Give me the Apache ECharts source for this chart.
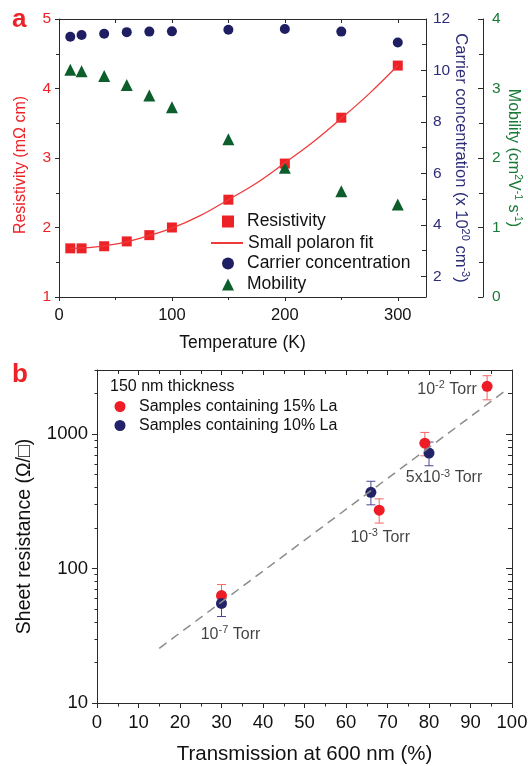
<!DOCTYPE html>
<html>
<head>
<meta charset="utf-8">
<script src="https://cdn.jsdelivr.net/npm/echarts@6/dist/echarts.min.js"></script>
<style>
  html, body { margin: 0; padding: 0; background: #fff; }
  #chart { width: 528px; height: 766px; }
</style>
</head>
<body>
<div id="chart"></div>
<script>
// panel a: transport data
const temps = [10, 20, 40, 60, 80, 100, 150, 200, 250, 300]
const resistivity = [1.70, 1.70, 1.73, 1.80, 1.89, 2.00, 2.40, 2.92, 3.58, 4.33]
const carrierConc = [11.31, 11.38, 11.43, 11.49, 11.51, 11.52, 11.58, 11.61, 11.51, 11.09]
const mobility = [3.27, 3.25, 3.18, 3.05, 2.90, 2.73, 2.27, 1.86, 1.52, 1.33]
// small polaron fit
const fitTemps = [10, 25, 50, 75, 100, 125, 150, 175, 200, 225, 250, 275, 300]
const fitValues = [1.70, 1.71, 1.76, 1.86, 1.99, 2.17, 2.40, 2.64, 2.93, 3.23, 3.57, 3.93, 4.33]

// panel b: sheet resistance vs transmission
const trans15 = [30, 68, 79, 94]
const sheet15 = [63, 272, 857, 2270]
const err15Low = [52, 218, 690, 1800]
const err15High = [76, 330, 1030, 2720]
const trans10 = [30, 66, 80]
const sheet10 = [55, 369, 723]
const err10Low = [44, 298, 582]
const err10High = [66, 446, 873]
const trendX = [15, 98]
const trendY = [25.5, 2060]
const noteText = ['10{s|-7} Torr', '10{s|-3} Torr', '5x10{s|-3} Torr', '10{s|-2} Torr']
const noteAt = [[30, 55], [68, 272], [80, 723], [94, 2270]]

// tick positions
const tempTicks = [0, 100, 200, 300]
const tempMinor = [50, 150, 250]
const resTicks = [1, 2, 3, 4, 5]
const resMinor = [1.5, 2.5, 3.5, 4.5]
const carrierTicks = [2, 4, 6, 8, 10, 12]
const carrierMinor = [3, 5, 7, 9, 11]
const mobTicks = [0, 1, 2, 3, 4]
const mobMinor = [0.5, 1.5, 2.5, 3.5]
const transTicks = [0, 10, 20, 30, 40, 50, 60, 70, 80, 90, 100]
const transMinor = [5, 15, 25, 35, 45, 55, 65, 75, 85, 95]
const sheetTicks = [10, 100, 1000]
const sheetMinor = [20, 30, 40, 50, 60, 70, 80, 90, 200, 300, 400, 500, 600, 700, 800, 900, 2000, 3000]

const FONT = '"Liberation Sans", Arial, sans-serif'
const RED = '#ec2227'
const NAVY = '#1f1e63'
const GREEN = '#0c5f2c'
const AXIS = '#2a2a2a'

const chart = echarts.init(document.getElementById('chart'))

// one axis; minor=true gives a line-less axis that only draws short ticks
function axis(o) {
  const a = {
    type: o.type || 'value',
    gridIndex: o.grid,
    position: o.position,
    offset: o.offset || 0,
    min: o.min,
    max: o.max,
    name: o.name || '',
    nameLocation: 'middle',
    nameGap: o.nameGap,
    nameRotate: o.nameRotate,
    nameMoveOverlap: false,
    nameTextStyle: o.nameTextStyle,
    splitLine: { show: false },
    axisLine: { show: !o.minor, onZero: false, lineStyle: { color: AXIS, width: 1 } },
    axisTick: {
      show: true,
      inside: !!o.inside,
      length: o.tickLen,
      customValues: o.ticks,
      lineStyle: { color: AXIS, width: 1 }
    },
    axisLabel: o.minor || o.noLabel ? { show: false } : {
      show: true,
      customValues: o.ticks,
      margin: o.margin,
      formatter: v => String(v),
      color: o.labelColor || '#111',
      fontSize: o.labelSize || 15.5,
      fontFamily: FONT
    }
  }
  if (o.logBase) a.logBase = o.logBase
  return a
}

function errorBars(xs, lo, hi, color) {
  return {
    type: 'custom',
    xAxisIndex: 4,
    yAxisIndex: 6,
    data: xs.map((x, i) => [x, lo[i], hi[i]]),
    encode: { x: 0, y: [1, 2] },
    renderItem(params, api) {
      const top = api.coord([api.value(0), api.value(2)])
      const bot = api.coord([api.value(0), api.value(1)])
      const w = 4.5
      const st = { stroke: color, lineWidth: 1 }
      return {
        type: 'group',
        children: [
          { type: 'line', shape: { x1: top[0], y1: top[1], x2: bot[0], y2: bot[1] }, style: st },
          { type: 'line', shape: { x1: top[0] - w, y1: top[1], x2: top[0] + w, y2: top[1] }, style: st },
          { type: 'line', shape: { x1: bot[0] - w, y1: bot[1], x2: bot[0] + w, y2: bot[1] }, style: st }
        ]
      }
    }
  }
}

// superscript token: sits at the top of a line taller than the base text
const supStyle = (color, size) => ({ fontSize: size, lineHeight: size, verticalAlign: 'top', color: color, fontFamily: FONT })

const notePlacement = [[9, 31], [1, 27], [15, 25], [-40, 3]]

// symbol legends (icon 12px, text pushed to line up with the fit-line legend)
const symbolLegend = (top, names) => ({
  orient: 'vertical', left: 222, top: top, padding: 0,
  itemWidth: 12, itemHeight: 12, itemGap: 3,
  textStyle: { fontSize: 17.5, color: '#111', fontFamily: FONT, padding: [0, 0, 0, 8] },
  data: names
})

const option = {
  animation: false,
  textStyle: { fontFamily: FONT },
  title: [
    { text: 'a', left: 12, top: 7, padding: 0, textStyle: { fontSize: 26, fontWeight: 'bold', color: RED, fontFamily: FONT } },
    { text: 'b', left: 12, top: 362, padding: 0, textStyle: { fontSize: 26, fontWeight: 'bold', color: RED, fontFamily: FONT } },
    { text: '150 nm thickness', left: 110, top: 378.5, padding: 0, textStyle: { fontSize: 16, fontWeight: 'normal', color: '#111', fontFamily: FONT } }
  ],
  legend: [
    symbolLegend(212.5, ['Resistivity']),
    {
      orient: 'vertical', left: 210, top: 234, padding: 0,
      itemWidth: 32, itemHeight: 12, itemGap: 3,
      textStyle: { fontSize: 17.5, color: '#111', fontFamily: FONT },
      data: [{ name: 'Small polaron fit', itemStyle: { opacity: 0 } }]
    },
    symbolLegend(254.5, ['Carrier concentration', 'Mobility']),
    {
      orient: 'vertical', left: 114.5, top: 398.5, padding: 0,
      itemWidth: 28, itemHeight: 11, itemGap: 3,
      textStyle: { fontSize: 16, color: '#111', fontFamily: FONT },
      data: ['Samples containing 15% La', 'Samples containing 10% La']
    }
  ],
  grid: [
    { left: 59, top: 19, right: 102, height: 278, outerBoundsMode: 'none', containLabel: false },
    { left: 97, top: 370, right: 16, height: 333, outerBoundsMode: 'none', containLabel: false }
  ],
  xAxis: [
    axis({ grid: 0, position: 'bottom', min: 0, max: 325, ticks: tempTicks, tickLen: 4, margin: 10, labelSize: 16.5,
      name: 'Temperature (K)', nameGap: 37, nameTextStyle: { fontSize: 17.5, color: '#111', fontFamily: FONT } }),
    axis({ grid: 0, position: 'bottom', min: 0, max: 325, ticks: tempMinor, tickLen: 3, minor: true }),
    axis({ grid: 0, position: 'top', min: 0, max: 325, ticks: tempTicks, tickLen: 4, inside: true, noLabel: true }),
    axis({ grid: 0, position: 'top', min: 0, max: 325, ticks: tempMinor, tickLen: 4, inside: true, minor: true }),
    axis({ grid: 1, position: 'bottom', min: 0, max: 100, ticks: transTicks, tickLen: 5, margin: 10, labelSize: 18.5,
      name: 'Transmission at 600 nm (%)', nameGap: 41, nameTextStyle: { fontSize: 20.5, color: '#111', fontFamily: FONT } }),
    axis({ grid: 1, position: 'bottom', min: 0, max: 100, ticks: transMinor, tickLen: 3.5, minor: true }),
    axis({ grid: 1, position: 'top', min: 0, max: 100, ticks: transTicks, tickLen: 5, inside: true, noLabel: true }),
    axis({ grid: 1, position: 'top', min: 0, max: 100, ticks: transMinor, tickLen: 4, inside: true, minor: true })
  ],
  yAxis: [
    axis({ grid: 0, position: 'left', min: 1, max: 5, ticks: resTicks, tickLen: 4, margin: 8, labelColor: RED,
      name: 'Resistivity (m\u03A9 cm)', nameGap: 30, nameRotate: 90,
      nameTextStyle: { fontSize: 16, color: RED, fontFamily: FONT, padding: [0, 14, 0, 0] } }),
    axis({ grid: 0, position: 'left', min: 1, max: 5, ticks: resMinor, tickLen: 3, minor: true }),
    axis({ grid: 0, position: 'right', min: 1.2, max: 12, ticks: carrierTicks, tickLen: 5, inside: true, margin: 7,
      labelColor: '#2d2c78',
      name: 'Carrier concentration (x 10{s|20} cm{s|-3})', nameGap: 24, nameRotate: -90,
      nameTextStyle: { fontSize: 16.5, lineHeight: 21, color: '#2d2c78', fontFamily: FONT, rich: { s: supStyle('#2d2c78', 11) } } }),
    axis({ grid: 0, position: 'right', min: 1.2, max: 12, ticks: carrierMinor, tickLen: 4, inside: true, minor: true }),
    axis({ grid: 0, position: 'right', offset: 57, min: 0, max: 4, ticks: mobTicks, tickLen: 5, inside: true, margin: 9,
      labelColor: '#177a36',
      name: 'Mobility (cm{s|2}V{s|-1} s{s|-1})', nameGap: 20, nameRotate: -90,
      nameTextStyle: { fontSize: 16, lineHeight: 20, color: '#177a36', fontFamily: FONT, rich: { s: supStyle('#177a36', 10.5) } } }),
    axis({ grid: 0, position: 'right', offset: 57, min: 0, max: 4, ticks: mobMinor, tickLen: 4, inside: true, minor: true }),
    axis({ grid: 1, type: 'log', logBase: 10, position: 'left', min: 10, max: 3000, ticks: sheetTicks, tickLen: 5, margin: 9,
      labelSize: 18.5,
      name: 'Sheet resistance (\u03A9/\u25A1)', nameGap: 62, nameRotate: 90,
      nameTextStyle: { fontSize: 19.5, color: '#111', fontFamily: FONT } }),
    axis({ grid: 1, type: 'log', logBase: 10, position: 'left', min: 10, max: 3000, ticks: sheetMinor, tickLen: 2.5, minor: true }),
    axis({ grid: 1, type: 'log', logBase: 10, position: 'right', min: 10, max: 3000, ticks: sheetTicks, tickLen: 6, inside: true, noLabel: true }),
    axis({ grid: 1, type: 'log', logBase: 10, position: 'right', min: 10, max: 3000, ticks: sheetMinor, tickLen: 4, inside: true, minor: true })
  ],
  series: [
    {
      name: 'Small polaron fit', type: 'line', xAxisIndex: 0, yAxisIndex: 0,
      data: fitTemps.map((t, i) => [t, fitValues[i]]),
      smooth: 0.4, symbol: 'none',
      lineStyle: { color: '#f03a3a', width: 1.3 }, itemStyle: { color: '#f03a3a' }
    },
    {
      name: 'Resistivity', type: 'scatter', xAxisIndex: 0, yAxisIndex: 0,
      data: temps.map((t, i) => [t, resistivity[i]]),
      symbol: 'rect', symbolSize: 10, itemStyle: { color: RED, opacity: 1 }
    },
    {
      name: 'Carrier concentration', type: 'scatter', xAxisIndex: 0, yAxisIndex: 2,
      data: temps.map((t, i) => [t, carrierConc[i]]),
      symbol: 'circle', symbolSize: 10, itemStyle: { color: NAVY, opacity: 1 }
    },
    {
      name: 'Mobility', type: 'scatter', xAxisIndex: 0, yAxisIndex: 4,
      data: temps.map((t, i) => [t, mobility[i]]),
      symbol: 'triangle', symbolSize: 12, itemStyle: { color: GREEN, opacity: 1 }
    },
    errorBars(trans15, err15Low, err15High, '#f26464'),
    {
      name: 'Samples containing 15% La', type: 'scatter', xAxisIndex: 4, yAxisIndex: 6,
      data: trans15.map((x, i) => [x, sheet15[i]]),
      symbol: 'circle', symbolSize: 11, itemStyle: { color: '#ee1c24', opacity: 1 }
    },
    errorBars(trans10, err10Low, err10High, '#4a4a96'),
    {
      name: 'Samples containing 10% La', type: 'scatter', xAxisIndex: 4, yAxisIndex: 6,
      data: trans10.map((x, i) => [x, sheet10[i]]),
      symbol: 'circle', symbolSize: 11, itemStyle: { color: '#23236a', opacity: 1 }
    },
    {
      type: 'line', xAxisIndex: 4, yAxisIndex: 6,
      data: trendX.map((x, i) => [x, trendY[i]]),
      symbol: 'none',
      lineStyle: { color: '#8c8c8c', width: 1.5, type: [9, 6] }
    },
    {
      type: 'scatter', xAxisIndex: 4, yAxisIndex: 6, symbolSize: 0, silent: true,
      data: noteAt.map((p, i) => ({ value: p, label: { offset: notePlacement[i] } })),
      label: {
        show: true, position: 'inside',
        formatter: p => noteText[p.dataIndex],
        fontSize: 16, lineHeight: 20, color: '#111', fontFamily: FONT,
        rich: { s: supStyle('#111', 11) }
      }
    }
  ]
}

chart.setOption(option)
</script>
</body>
</html>
